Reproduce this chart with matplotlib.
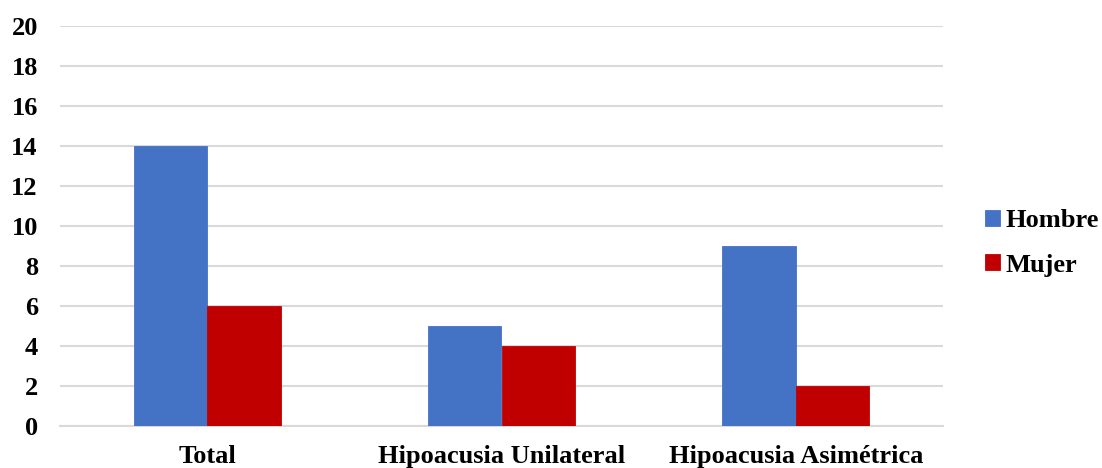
import matplotlib.pyplot as plt
import numpy as np

# Datos del gráfico
categorias = ['Total', 'Hipoacusia Unilateral', 'Hipoacusia Asimétrica']
hombre = [14, 5, 9]
mujer = [6, 4, 2]

plt.rcParams['font.family'] = ['Liberation Serif', 'DejaVu Serif']
plt.rcParams['font.weight'] = 'bold'

fig = plt.figure(figsize=(11.02, 4.68), dpi=100)
ax = fig.add_axes([60 / 1102, 1 - 426 / 468, 883 / 1102, 400 / 468])

x = np.arange(len(categorias))
ancho = 0.25
ax.bar(x - ancho / 2, hombre, ancho, color='#4472C4', edgecolor='#4472C4',
       linewidth=0.6, label='Hombre', zorder=3)
ax.bar(x + ancho / 2, mujer, ancho, color='#C00000', edgecolor='#C00000',
       linewidth=0.6, label='Mujer', zorder=3)

ax.set_xlim(-0.5, 2.5)
ax.set_ylim(0, 20)
ax.set_yticks(range(0, 21, 2))
ax.set_xticks(x)
ax.set_xticklabels(categorias, fontsize=19, fontweight='bold')
ax.tick_params(axis='y', labelsize=19, length=0, pad=16)
ax.tick_params(axis='x', length=0, pad=14)
for t in ax.get_yticklabels():
    t.set_fontweight('bold')

ax.grid(axis='y', color='#D9D9D9', linewidth=1.5, zorder=0)
for lado in ['top', 'right', 'left']:
    ax.spines[lado].set_visible(False)
ax.spines['bottom'].set_color('#D9D9D9')
ax.spines['bottom'].set_linewidth(1.5)

fig.legend(loc='center left', bbox_to_anchor=(985 / 1102, 1 - 243 / 468),
           frameon=False, prop={'size': 19, 'weight': 'bold'},
           borderpad=0, borderaxespad=0,
           handlelength=0.55, handleheight=0.55, handletextpad=0.22,
           labelspacing=0.8)

fig.savefig('out.png', dpi=100)
